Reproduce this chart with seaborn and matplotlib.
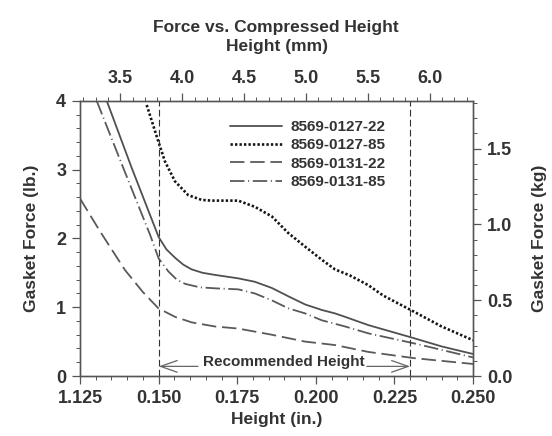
import pandas as pd
import seaborn as sns
import matplotlib.pyplot as plt
from matplotlib.ticker import MultipleLocator, FixedLocator, FormatStrFormatter

# values: height (in.) vs gasket force (lb.)
h_0127_22 = [0.1335, 0.1414, 0.150, 0.1525, 0.1552, 0.1578, 0.1605, 0.1640, 0.1679, 0.1753,
             0.1806, 0.186, 0.1912, 0.1966, 0.2019, 0.2061, 0.2093, 0.2167, 0.2312, 0.240, 0.250]
f_0127_22 = [4.0, 3.03, 2.02, 1.84, 1.72, 1.62, 1.55, 1.50, 1.47, 1.42,
             1.37, 1.28, 1.16, 1.04, 0.96, 0.91, 0.86, 0.74, 0.55, 0.43, 0.32]

h_0127_85 = [0.1462, 0.1499, 0.1520, 0.1552, 0.1594, 0.1637, 0.1669, 0.1753, 0.1806, 0.186,
             0.1912, 0.1966, 0.2019, 0.2061, 0.2109, 0.2167, 0.2214, 0.2312, 0.240, 0.250]
f_0127_85 = [3.94, 3.41, 3.12, 2.83, 2.63, 2.56, 2.55, 2.55, 2.46, 2.32,
             2.08, 1.88, 1.69, 1.55, 1.46, 1.32, 1.17, 0.935, 0.72, 0.52]

h_0131_22 = [0.125, 0.1314, 0.1393, 0.1450, 0.1499, 0.1552, 0.1605, 0.1679, 0.1753, 0.186,
             0.1966, 0.2061, 0.2093, 0.2167, 0.2312, 0.250]
f_0131_22 = [2.58, 2.10, 1.54, 1.22, 0.985, 0.86, 0.78, 0.72, 0.69, 0.60,
             0.50, 0.45, 0.42, 0.35, 0.26, 0.175]

h_0131_85 = [0.1303, 0.1388, 0.1473, 0.150, 0.1531, 0.1558, 0.1584, 0.1630, 0.1679, 0.1753,
             0.1806, 0.186, 0.1912, 0.1966, 0.2019, 0.2093, 0.2167, 0.2312, 0.240, 0.250]
f_0131_85 = [4.0, 3.02, 2.05, 1.71, 1.52, 1.40, 1.34, 1.29, 1.275, 1.26,
             1.20, 1.10, 0.985, 0.91, 0.81, 0.72, 0.62, 0.475, 0.38, 0.27]

series_names = ["8569-0127-22", "8569-0127-85", "8569-0131-22", "8569-0131-85"]
heights = [h_0127_22, h_0127_85, h_0131_22, h_0131_85]
forces = [f_0127_22, f_0127_85, f_0131_22, f_0131_85]

x_ticks = [0.125, 0.150, 0.175, 0.200, 0.225, 0.250]
x_tick_labels = ["1.125", "0.150", "0.175", "0.200", "0.225", "0.250"]
recommended = [0.150, 0.230]

sns.set_style("ticks")
plt.rcParams["font.family"] = ["Liberation Sans", "DejaVu Sans"]
plt.rcParams["font.weight"] = "bold"
plt.rcParams["axes.labelweight"] = "bold"
txt = "#333333"
spine = "#555555"

frames = []
for name, h, f in zip(series_names, heights, forces):
    frames.append(pd.DataFrame({"height": h, "force": f, "part": name}))
df = pd.concat(frames, ignore_index=True)

palette = {"8569-0127-22": "#505050", "8569-0127-85": "#151515",
           "8569-0131-22": "#5a5a5a", "8569-0131-85": "#5a5a5a"}
dashes = {"8569-0127-22": "", "8569-0127-85": (0.9, 0.8),
          "8569-0131-22": (8, 3.2), "8569-0131-85": (8, 2, 0.6, 2)}
sizes = {"8569-0127-22": 1.3, "8569-0127-85": 1.9,
         "8569-0131-22": 1.3, "8569-0131-85": 1.3}

fig = plt.figure(figsize=(5.52, 4.36), dpi=100)
ax = fig.add_axes([0.145, 0.1376, 0.712, 0.631])

sns.lineplot(data=df, x="height", y="force", hue="part", style="part", size="part",
             palette=palette, dashes=dashes, sizes=sizes, sort=False, estimator=None, ax=ax)

for xv in recommended:
    ax.axvline(xv, color="#333333", lw=0.8, dashes=(6, 3))

ax.set_xlim(0.125, 0.250)
ax.set_ylim(0, 4)

# recommended height band
ax.text(0.1897, 0.2, "Recommended Height", ha="center", va="center", fontsize=11, color=txt)
arrow = dict(arrowstyle="->,head_length=1.0,head_width=0.35", color="#666666", lw=0.9,
             mutation_scale=12, shrinkA=0, shrinkB=0)
ax.annotate("", xy=(0.150, 0.14), xytext=(0.1625, 0.14), arrowprops=arrow)
ax.annotate("", xy=(0.230, 0.14), xytext=(0.2162, 0.14), arrowprops=arrow)

handles, labels = ax.get_legend_handles_labels()
keep = [(hd, lb) for hd, lb in zip(handles, labels) if lb in series_names]
ax.legend([k[0] for k in keep], [k[1] for k in keep], loc="upper left",
          bbox_to_anchor=(0.365, 0.952), frameon=False, fontsize=11, handlelength=3.4,
          handletextpad=0.6, labelspacing=0.28, borderaxespad=0, labelcolor=txt)

ax.xaxis.set_major_locator(FixedLocator(x_ticks))
ax.set_xticklabels(x_tick_labels)
ax.xaxis.set_minor_locator(MultipleLocator(0.005))
ax.yaxis.set_major_locator(MultipleLocator(1))
ax.yaxis.set_minor_locator(MultipleLocator(0.2))
ax.set_xlabel("Height (in.)", fontsize=12.5, color=txt, labelpad=4)
ax.set_ylabel("Gasket Force (lb.)", fontsize=12.5, color=txt, labelpad=12)

# top axis in mm, right axis in kg
top = ax.twiny()
top.set_xlim(0.125 * 25.4, 0.250 * 25.4)
top.xaxis.set_major_locator(MultipleLocator(0.5))
top.xaxis.set_minor_locator(MultipleLocator(0.1))
top.xaxis.set_major_formatter(FormatStrFormatter("%.1f"))
top.set_xlabel("Height (mm)", fontsize=12.5, color=txt, labelpad=14)

right = ax.twinx()
right.set_ylim(0, 4 * 0.45359)
right.yaxis.set_major_locator(MultipleLocator(0.5))
right.yaxis.set_minor_locator(MultipleLocator(0.1))
right.yaxis.set_major_formatter(FormatStrFormatter("%.1f"))
right.set_ylabel("Gasket Force (kg)", fontsize=12.5, color=txt, labelpad=14)

for a in (ax, top, right):
    a.tick_params(which="major", direction="out", length=6, width=0.9, color=spine,
                  labelsize=13, labelcolor=txt, pad=4)
    a.tick_params(which="minor", direction="out", length=3, width=0.7, color=spine)
    for s in a.spines.values():
        s.set_color(spine)
        s.set_linewidth(0.9)

fig.suptitle("Force vs. Compressed Height", y=0.955, fontsize=12.5, fontweight="bold", color=txt)

fig.savefig("out.png", dpi=100)
